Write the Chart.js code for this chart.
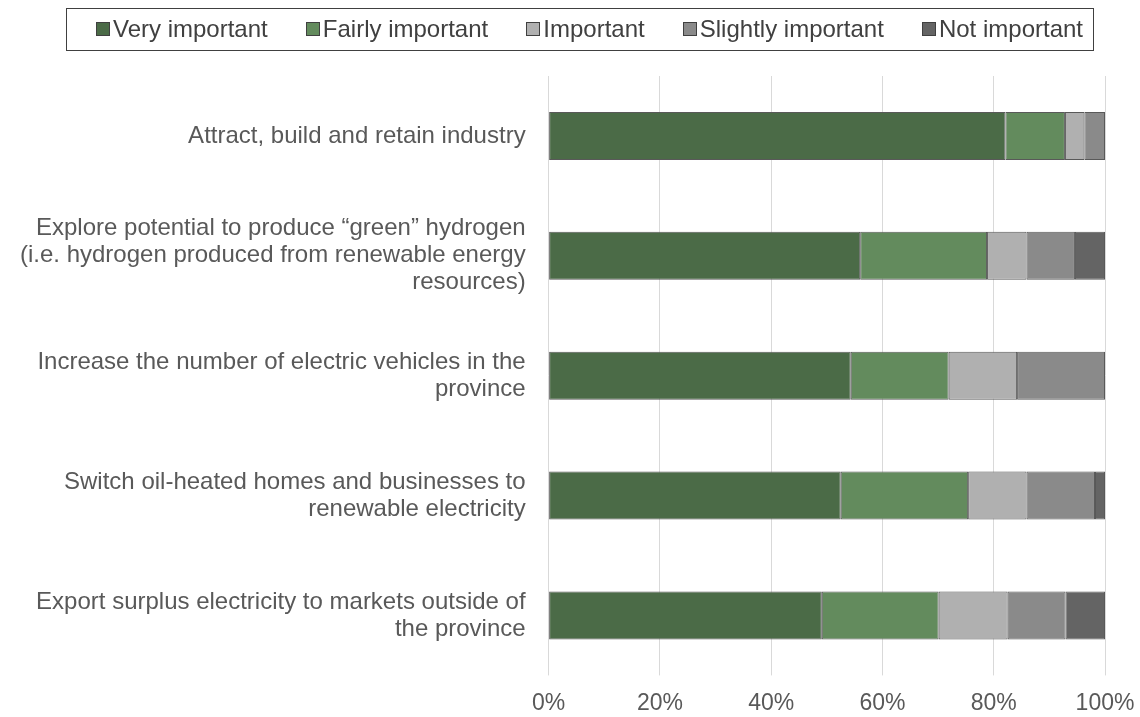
<!DOCTYPE html>
<html lang="en">
<head>
<meta charset="UTF-8">
<title>Importance of energy priorities</title>
<script src="https://cdn.jsdelivr.net/npm/chart.js"></script>
<style>
  html, body { margin: 0; padding: 0; background: #fff; }
  #wrap { width: 1140px; height: 717px; }
</style>
</head>
<body>
<div id="wrap"><canvas id="chart" width="1140" height="717"></canvas></div>
<script>
// categories (top to bottom)
const categories = [
  "Attract, build and retain industry",
  ["Explore potential to produce \u201cgreen\u201d hydrogen", "(i.e. hydrogen produced from renewable energy", "resources)"],
  ["Increase the number of electric vehicles in the", "province"],
  ["Switch oil-heated homes and businesses to", "renewable electricity"],
  ["Export surplus electricity to markets outside of", "the province"]
]

// share of respondents (%)
const veryImportant = [82.1, 56.0, 54.3, 52.5, 49.1]
const fairlyImportant = [10.7, 22.8, 17.6, 22.9, 21.0]
const important = [3.5, 7.1, 12.3, 10.5, 12.4]
const slightlyImportant = [3.7, 8.7, 15.8, 12.3, 10.4]
const notImportant = [0, 5.4, 0, 1.8, 7.1]

const xTicks = [0, 20, 40, 60, 80, 100]

const fontFamily = "'Liberation Sans', Arial, sans-serif"
const textColor = "#595959"

// boxed legend in one row across the top
const boxedLegend = {
  id: "boxedLegend",
  afterDraw(chart) {
    const ctx = chart.ctx
    const frame = { left: 66, top: 8, right: 1093, bottom: 50 }
    const cy = (frame.top + frame.bottom) / 2
    const box = 14
    ctx.save()
    ctx.strokeStyle = "#404040"
    ctx.lineWidth = 1
    ctx.strokeRect(frame.left + 0.5, frame.top + 0.5, frame.right - frame.left, frame.bottom - frame.top)

    ctx.font = "24px " + fontFamily
    ctx.textBaseline = "middle"
    const items = chart.data.datasets.map((ds) => ({
      label: ds.label,
      color: ds.backgroundColor,
      w: ctx.measureText(ds.label).width,
    }))
    const start = 96
    const end = 1083
    const used = items.reduce((s, it) => s + box + 3 + it.w, 0)
    const gap = (end - start - used) / (items.length - 1)
    let x = start
    for (const it of items) {
      const bx = Math.round(x)
      const by = Math.round(cy - box / 2)
      ctx.fillStyle = it.color
      ctx.fillRect(bx, by, box, box)
      ctx.strokeStyle = "#404040"
      ctx.strokeRect(bx + 0.5, by + 0.5, box - 1, box - 1)
      ctx.fillStyle = "#404040"
      ctx.fillText(it.label, x + box + 3, cy + 1)
      x += box + 3 + it.w + gap
    }
    ctx.restore()
  },
}

const mk = (label, data, color) => ({
  label,
  data,
  backgroundColor: color,
  borderColor: "#595959",
  borderWidth: 1,
  borderSkipped: false,
  barPercentage: 0.4,
  categoryPercentage: 1,
})

new Chart(document.getElementById("chart"), {
  type: "bar",
  data: {
    labels: categories,
    datasets: [
      mk("Very important", veryImportant, "#4b6b47"),
      mk("Fairly important", fairlyImportant, "#638b5d"),
      mk("Important", important, "#b0b0b0"),
      mk("Slightly important", slightlyImportant, "#8a8a8a"),
      mk("Not important", notImportant, "#646464"),
    ],
  },
  options: {
    indexAxis: "y",
    responsive: false,
    animation: false,
    layout: { padding: { top: 76, right: 0, bottom: -14, left: -3 } },
    plugins: {
      tooltip: { enabled: false },
      legend: { display: false },
    },
    scales: {
      x: {
        stacked: true,
        min: 0,
        max: 100,
        afterBuildTicks(axis) {
          axis.ticks = xTicks.map((v) => ({ value: v }))
        },
        afterFit(axis) {
          axis.paddingLeft = 0
          axis.paddingRight = 35
        },
        ticks: {
          color: textColor,
          font: { family: fontFamily, size: 23 },
          padding: 14,
          maxRotation: 0,
          callback: (v) => v + "%",
        },
        grid: { color: "#d9d9d9", lineWidth: 1, tickLength: 0 },
        border: { display: false },
      },
      y: {
        stacked: true,
        afterFit(axis) {
          axis.paddingTop = 0
          axis.paddingBottom = 0
        },
        ticks: {
          color: textColor,
          font: { family: fontFamily, size: 24, lineHeight: 1.125 },
          padding: 23,
        },
        grid: { display: false, drawTicks: false },
        border: { display: false },
      },
    },
  },
  plugins: [boxedLegend],
})
</script>
</body>
</html>
